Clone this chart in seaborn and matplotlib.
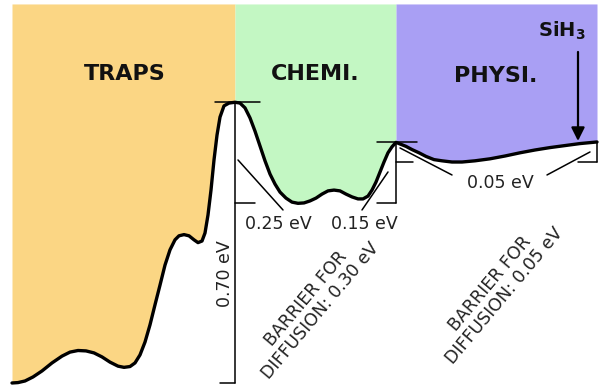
import matplotlib
matplotlib.use("Agg")
import matplotlib.pyplot as plt
import seaborn as sns
import numpy as np
import pandas as pd

# ---- data: energy profile (position in arbitrary units, energy in eV) ----
position = [12, 18, 25, 33, 42, 52, 62, 70, 78, 86, 94, 102, 110, 118, 124, 130, 135,
            140, 145, 150, 155, 160, 165, 170, 175, 179, 184, 189, 194, 198, 202, 205,
            208, 211, 214, 217, 220, 224, 229, 235,
            240, 245, 250, 255, 260, 265, 270, 275, 280, 286, 292, 298, 304, 310, 316,
            322, 328, 334, 340, 346, 352, 358, 363, 368, 372, 376, 380, 384, 388, 392, 396,
            400, 406, 412, 419, 426, 434, 442, 452, 462, 475, 490, 505, 520, 535, 550,
            565, 580, 597]
energy = [0.000, 0.001, 0.005, 0.015, 0.030, 0.050, 0.067, 0.077, 0.081, 0.080, 0.075,
          0.065, 0.052, 0.042, 0.039, 0.041, 0.050, 0.070, 0.102, 0.145, 0.195, 0.244,
          0.294, 0.332, 0.357, 0.367, 0.370, 0.367, 0.357, 0.350, 0.354, 0.374, 0.419,
          0.481, 0.556, 0.618, 0.663, 0.691, 0.698, 0.700,
          0.698, 0.686, 0.661, 0.628, 0.591, 0.554, 0.521, 0.496, 0.476, 0.461, 0.451,
          0.448, 0.449, 0.454, 0.461, 0.471, 0.479, 0.481, 0.479, 0.471, 0.464, 0.459,
          0.459, 0.466, 0.481, 0.501, 0.526, 0.551, 0.574, 0.589, 0.600,
          0.596, 0.590, 0.582, 0.574, 0.565, 0.557, 0.554, 0.551, 0.551, 0.554, 0.559,
          0.566, 0.574, 0.581, 0.587, 0.592, 0.597, 0.601]

region_names = ["TRAPS", "CHEMI.", "PHYSI."]
region_bounds = [(12, 235), (235, 396), (396, 597)]
region_colors = ["#FBD684", "#C3F7C3", "#A99FF4"]

level_top = 0.700      # trap barrier top
level_chem = 0.450     # chemisorption minimum
level_phys_top = 0.600 # physisorption top
level_phys_min = 0.550 # physisorption minimum
labels_energy = ["0.70 eV", "0.25 eV", "0.15 eV", "0.05 eV"]
barrier_labels = ["BARRIER FOR\nDIFFUSION: 0.30 eV", "BARRIER FOR\nDIFFUSION: 0.05 eV"]

df = pd.DataFrame({"position": position, "energy": energy})

sns.set_style("white")
plt.rcParams["font.family"] = ["DejaVu Sans"]

fig = plt.figure(figsize=(6.0, 3.88), dpi=100)
ax = fig.add_axes([0, 0, 1, 1])
ax.set_xlim(0, 600)
ax.set_ylim(-0.0125, 0.955)
ax.axis("off")

def E(ypx):
    return (383 - ypx) / 401.0

TOP = E(4)
pos = np.array(position)
en = np.array(energy)
for (x0, x1), c in zip(region_bounds, region_colors):
    m = (pos >= x0) & (pos <= x1)
    ax.fill_between(pos[m], en[m], TOP, color=c, lw=0, zorder=1)

sns.lineplot(data=df, x="position", y="energy", sort=False, estimator=None,
             color="black", lw=2.4, ax=ax, zorder=5)
ax.lines[-1].set_solid_capstyle("round")
ax.lines[-1].set_solid_joinstyle("round")

lk = dict(color="black", lw=1.1, zorder=4)
# 0.70 eV bracket
ax.plot([215, 260], [level_top, level_top], **lk)
ax.plot([235, 235], [level_top, 0.0], **lk)
ax.plot([220, 235], [0.0, 0.0], **lk)
# chem bracket
ax.plot([235, 255], [level_chem, level_chem], **lk)
ax.plot([377, 396], [level_chem, level_chem], **lk)
ax.plot([396, 396], [level_phys_top, level_chem], **lk)
ax.plot([377, 417], [level_phys_top, level_phys_top], **lk)
# physi bracket
ax.plot([396, 413], [level_phys_min, level_phys_min], **lk)
ax.plot([578, 597], [level_phys_min, level_phys_min], **lk)
ax.plot([597, 597], [level_phys_top, level_phys_min], **lk)
# leader lines
ax.plot([238, 283], [E(160), E(210)], **lk)
ax.plot([388, 362], [E(172), E(210)], **lk)
ax.plot([400, 452], [E(148), E(175)], **lk)
ax.plot([590, 547], [E(152), E(175)], **lk)

# region titles
tk = dict(ha="center", va="center", fontsize=16, fontweight="bold", color="#111111", zorder=6)
ax.text(125, E(74), region_names[0], **tk)
ax.text(315, E(74), region_names[1], **tk)
ax.text(496, E(76), region_names[2], **tk)

ax.text(562, E(31), r"$\mathbf{SiH_3}$", ha="center", va="center", fontsize=14, color="#111111")
ax.annotate("", xy=(578, E(141)), xytext=(578, E(52)),
            arrowprops=dict(arrowstyle="-|>", lw=1.6, color="black", mutation_scale=20,
                            shrinkA=0, shrinkB=0), zorder=6)

lab = dict(ha="center", va="center", fontsize=12.5, color="#222222", zorder=6)
ax.text(225, E(274), labels_energy[0], rotation=90, **lab)
ax.text(278, E(224), labels_energy[1], **lab)
ax.text(364, E(224), labels_energy[2], **lab)
ax.text(500, E(183), labels_energy[3], **lab)

ax.text(313, E(305), barrier_labels[0], rotation=50,
        ha="center", va="center", multialignment="center", fontsize=12.5,
        color="#222222", linespacing=1.1, rotation_mode="anchor")
ax.text(497, E(290), barrier_labels[1], rotation=50,
        ha="center", va="center", multialignment="center", fontsize=12.5,
        color="#222222", linespacing=1.1, rotation_mode="anchor")

fig.savefig("out.png", dpi=100)
